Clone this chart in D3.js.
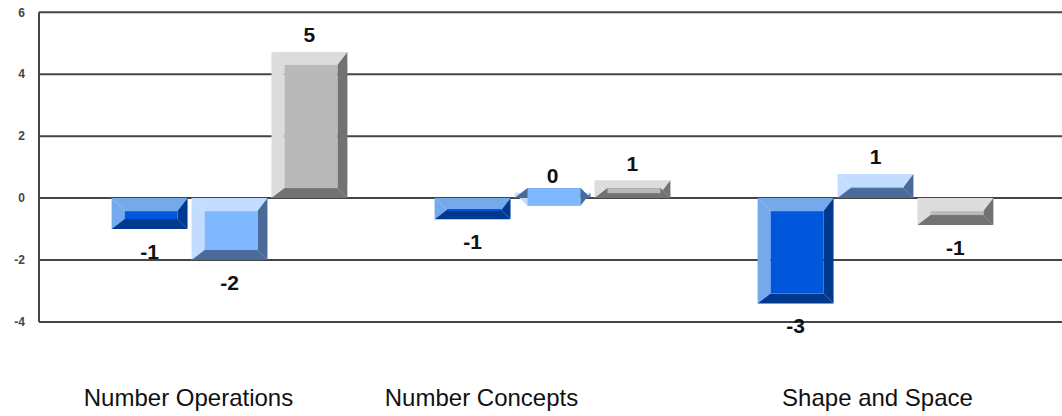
<!DOCTYPE html>
<html>
<head>
<meta charset="utf-8">
<script src="https://cdn.jsdelivr.net/npm/d3@7"></script>
<style>
  html, body { margin: 0; padding: 0; background: #fff; }
  svg { display: block; }
</style>
</head>
<body>
<svg id="chart" width="1062" height="416"></svg>
<script>
// ---- data ----
const categories = ["Number Operations", "Number Concepts", "Shape and Space"];
const seriesNames = ["Series A", "Series B", "Series C"];
const seriesA = [-1.0, -0.68, -3.4];
const seriesB = [-2.0, 0.17, 0.78];
const seriesC = [4.72, 0.58, -0.87];
const valueLabels = [[-1, -2, 5], [-1, 0, 1], [-3, 1, -1]]; // per category: A, B, C
const yTicks = [-4, -2, 0, 2, 4, 6];

// ---- style / layout ----
const palettes = [
  { main: "#0057dc", light: "#74a9ec", dark: "#003a8e" },
  { main: "#80b8ff", light: "#c2ddff", dark: "#4a6b99" },
  { main: "#b9b9b9", light: "#dcdcdc", dark: "#727272" }
];
const labelDx = [-41, -71, 2];
const svg = d3.select("#chart");
const W = 1062, H = 416;
const axisX = 39;

const y = d3.scaleLinear().domain([-4, 6]).range([322, 12.3]);
const x0 = d3.scaleBand().domain(categories).range([68, 1037])
  .paddingInner(0.27).paddingOuter(0.135);
const x1 = d3.scaleBand().domain(d3.range(3)).range([0, x0.bandwidth()]).paddingInner(0.05);

const series = [seriesA, seriesB, seriesC];

// gridlines
svg.append("g").selectAll("line").data(yTicks).join("line")
  .attr("x1", axisX).attr("x2", W)
  .attr("y1", d => y(d)).attr("y2", d => y(d))
  .attr("stroke", "#454545").attr("stroke-width", 2);
svg.append("line").attr("x1", axisX).attr("x2", axisX)
  .attr("y1", y(6)).attr("y2", y(-4))
  .attr("stroke", "#454545").attr("stroke-width", 2);

// y tick labels
svg.append("g").selectAll("text").data(yTicks).join("text")
  .attr("x", 25).attr("y", d => y(d)).attr("dy", "0.35em")
  .attr("text-anchor", "end")
  .attr("font-family", "Liberation Sans, Arial, sans-serif")
  .attr("font-size", 12).attr("font-weight", "bold").attr("fill", "#444")
  .text(d => d);

// bars
const bars = [];
categories.forEach((c, ci) => {
  series.forEach((s, si) => {
    bars.push({ c, ci, si, v: s[ci], label: valueLabels[ci][si] });
  });
});

const gBars = svg.append("g");
bars.forEach(b => {
  const bx = x0(b.c) + x1(b.si);
  const bw = x1.bandwidth();
  const yTop = y(Math.max(0, b.v));
  const yBot = y(Math.min(0, b.v));
  const pal = palettes[b.si];
  const L = 13, D = 10;
  const xl = bx, xr = bx + bw, yt = yTop, yb = yBot;
  const g = gBars.append("g");
  const poly = (pts, fill) => g.append("polygon")
    .attr("points", pts.map(p => p.join(",")).join(" ")).attr("fill", fill);
  // top (light)
  poly([[xl, yt], [xr, yt], [xr - D, yt + L], [xl + L, yt + L]], pal.light);
  // left (light)
  poly([[xl, yt], [xl + L, yt + L], [xl + L, yb - D], [xl, yb]], pal.light);
  // right (dark)
  poly([[xr, yt], [xr, yb], [xr - D, yb - D], [xr - D, yt + L]], pal.dark);
  // bottom (dark)
  poly([[xl, yb], [xr, yb], [xr - D, yb - D], [xl + L, yb - D]], pal.dark);
  // face
  const fy0 = Math.min(yt + L, yb - D), fy1 = Math.max(yt + L, yb - D);
  g.append("rect").attr("x", xl + L).attr("y", fy0)
    .attr("width", bw - L - D).attr("height", fy1 - fy0).attr("fill", pal.main);
  // value label
  const ly = b.v >= 0 ? yTop - 9.5 : yBot + 29.5;
  svg.append("text")
    .attr("x", bx + bw / 2).attr("y", ly)
    .attr("text-anchor", "middle")
    .attr("font-family", "Liberation Sans, Arial, sans-serif")
    .attr("font-weight", "bold").attr("font-size", 21).attr("fill", "#111")
    .text(b.label);
});

// category labels
svg.append("g").selectAll("text").data(categories).join("text")
  .attr("x", (d, i) => x0(d) + x0.bandwidth() / 2 + labelDx[i])
  .attr("y", 406)
  .attr("text-anchor", "middle")
  .attr("font-family", "Liberation Sans, Arial, sans-serif")
  .attr("font-size", 24).attr("fill", "#111")
  .text(d => d);
</script>
</body>
</html>
